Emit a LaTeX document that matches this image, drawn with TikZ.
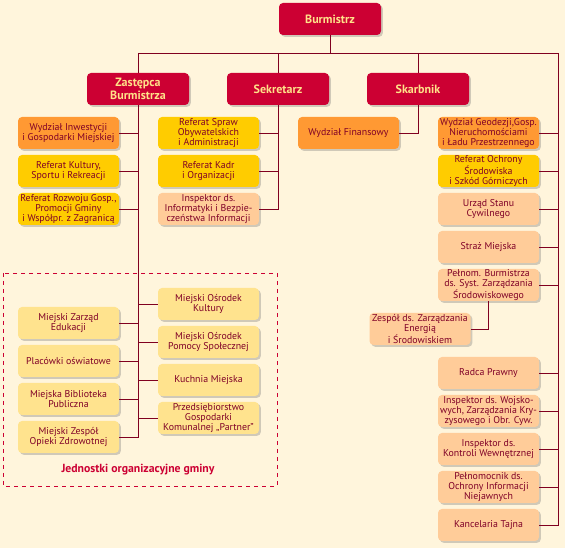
\documentclass[tikz,border=0pt]{standalone}
\usepackage{fontspec}
\setmainfont{PT Sans}
\usetikzlibrary{shadows}
\definecolor{bgc}{HTML}{FFF5DC}
\definecolor{redb}{HTML}{CC0033}
\definecolor{redtxt}{HTML}{FFE289}
\definecolor{orangeb}{HTML}{FF9933}
\definecolor{goldb}{HTML}{FFCC00}
\definecolor{peachb}{HTML}{FFCC99}
\definecolor{lyellb}{HTML}{FFE38E}
\definecolor{txt}{HTML}{7F0027}
\definecolor{linec}{HTML}{800020}
\tikzset{
  box/.style={rounded corners=3pt, minimum width=75.75pt, minimum height=24pt, inner sep=0pt,
    align=center, text=txt, font=\fontsize{7.4}{7.6}\selectfont,
    drop shadow={shadow xshift=1.4pt, shadow yshift=-1.4pt, opacity=0.3, fill=black!60}},
  headbox/.style={box, fill=redb, text=redtxt, minimum width=76.5pt, font=\fontsize{9}{9.8}\selectfont\bfseries},
  orangebox/.style={box, fill=orangeb},
  goldbox/.style={box, fill=goldb},
  peachbox/.style={box, fill=peachb},
  unitbox/.style={box, fill=lyellb},
  conn/.style={draw=linec, line width=0.7pt},
}
\begin{document}
\begin{tikzpicture}[x=0.75pt, y=-0.75pt]
\fill[bgc] (0,0) rectangle (565,548);
\useasboundingbox (0,0) rectangle (565,548);
% frame of organizational units
\draw[redb, dashed, line width=0.6pt] (3,273) rectangle (277,486);
\node[text=redb, font=\fontsize{8.8}{9}\selectfont\bfseries] (lbl) at (138,470) {Jednostki organizacyjne gminy};

\coordinate (hl) at (138,53);
\coordinate (hr) at (558,53);

% head boxes
\node[headbox] (bur) at (330,19) {Burmistrz};
\node[headbox] (zast) at (138,89) {Zastępca\\Burmistrza};
\node[headbox] (sek) at (278,89) {Sekretarz};
\node[headbox] (skarb) at (418,89) {Skarbnik};

% left column
\node[orangebox] (l1) at (68.5,133) {Wydział Inwestycji\\i Gospodarki Miejskiej};
\node[goldbox] (l2) at (68.5,171) {Referat Kultury,\\Sportu i Rekreacji};
\node[goldbox] (l3) at (68.5,209) {Referat Rozwoju Gosp.,\\Promocji Gminy\\i Współpr. z Zagranicą};

% middle column
\node[goldbox] (m1) at (208.5,133) {Referat Spraw\\Obywatelskich\\i Administracji};
\node[goldbox] (m2) at (208.5,171) {Referat Kadr\\i Organizacji};
\node[peachbox] (m3) at (208.5,209) {Inspektor ds.\\Informatyki i Bezpie-\\czeństwa Informacji};

% finance
\node[orangebox] (fin) at (348.5,133) {Wydział Finansowy};

% right column
\node[orangebox] (r1) at (488.5,133) {Wydział Geodezji,Gosp.\\Nieruchomościami\\i Ładu Przestrzennego};
\node[goldbox] (r2) at (488.5,171) {Referat Ochrony\\Środowiska\\i Szkód Górniczych};
\node[peachbox] (r3) at (488.5,209) {Urząd Stanu\\Cywilnego};
\node[peachbox] (r4) at (488.5,247) {Straż Miejska};
\node[peachbox] (r5) at (488.5,285) {Pełnom. Burmistrza\\ds. Syst. Zarządzania\\Środowiskowego};
\node[peachbox] (zesp) at (420,329) {Zespół ds. Zarządzania\\Energią\\i Środowiskiem};
\node[peachbox] (r6) at (488.5,373) {Radca Prawny};
\node[peachbox] (r7) at (488.5,411) {Inspektor ds. Wojsko-\\wych, Zarządzania Kry-\\zysowego i Obr. Cyw.};
\node[peachbox] (r8) at (488.5,449) {Inspektor ds.\\Kontroli Wewnętrznej};
\node[peachbox] (r9) at (488.5,487) {Pełnomocnik ds.\\Ochrony Informacji\\Niejawnych};
\node[peachbox] (r10) at (488.5,525) {Kancelaria Tajna};

% organizational units
\node[unitbox] (a1) at (68.5,323) {Miejski Zarząd\\Edukacji};
\node[unitbox] (a2) at (68.5,361) {Placówki oświatowe};
\node[unitbox] (a3) at (68.5,399) {Miejska Biblioteka\\Publiczna};
\node[unitbox] (a4) at (68.5,437) {Miejski Zespół\\Opieki Zdrowotnej};
\node[unitbox] (b1) at (208.5,304) {Miejski Ośrodek\\Kultury};
\node[unitbox] (b2) at (208.5,342) {Miejski Ośrodek\\Pomocy Społecznej};
\node[unitbox] (b3) at (208.5,380) {Kuchnia Miejska};
\node[unitbox] (b4) at (208.5,418) {Przedsiębiorstwo\\Gospodarki\\Komunalnej „Partner”};

% connectors
\draw[conn] (bur.south) -- (bur.south |- hl);
\draw[conn] (hl) -- (hr);
\draw[conn] (hl) -- (zast.north);
\draw[conn] (sek.north |- hl) -- (sek.north);
\draw[conn] (skarb.north |- hl) -- (skarb.north);
\draw[conn] (hr) -- (hr |- r10.east) -- (r10.east);
\foreach \n in {r1,r2,r3,r4,r5,r6,r7,r8,r9}
  \draw[conn] (\n.east) -- (\n.east -| hr);
\draw[conn] (zast.south) -- (zast.south |- a4.east) -- (a4.east);
\foreach \n in {l1,l2,l3,a1,a2,a3}
  \draw[conn] (\n.east) -- (\n.east -| zast.south);
\foreach \n in {b1,b2,b3,b4}
  \draw[conn] (\n.west) -- (\n.west -| zast.south);
\draw[conn] (sek.south) -- (sek.south |- m3.east) -- (m3.east);
\foreach \n in {m1,m2}
  \draw[conn] (\n.east) -- (\n.east -| sek.south);
\draw[conn] (skarb.south) |- (fin.east);
\draw[conn] (r5.south) |- (zesp.east);
\end{tikzpicture}
\end{document}
